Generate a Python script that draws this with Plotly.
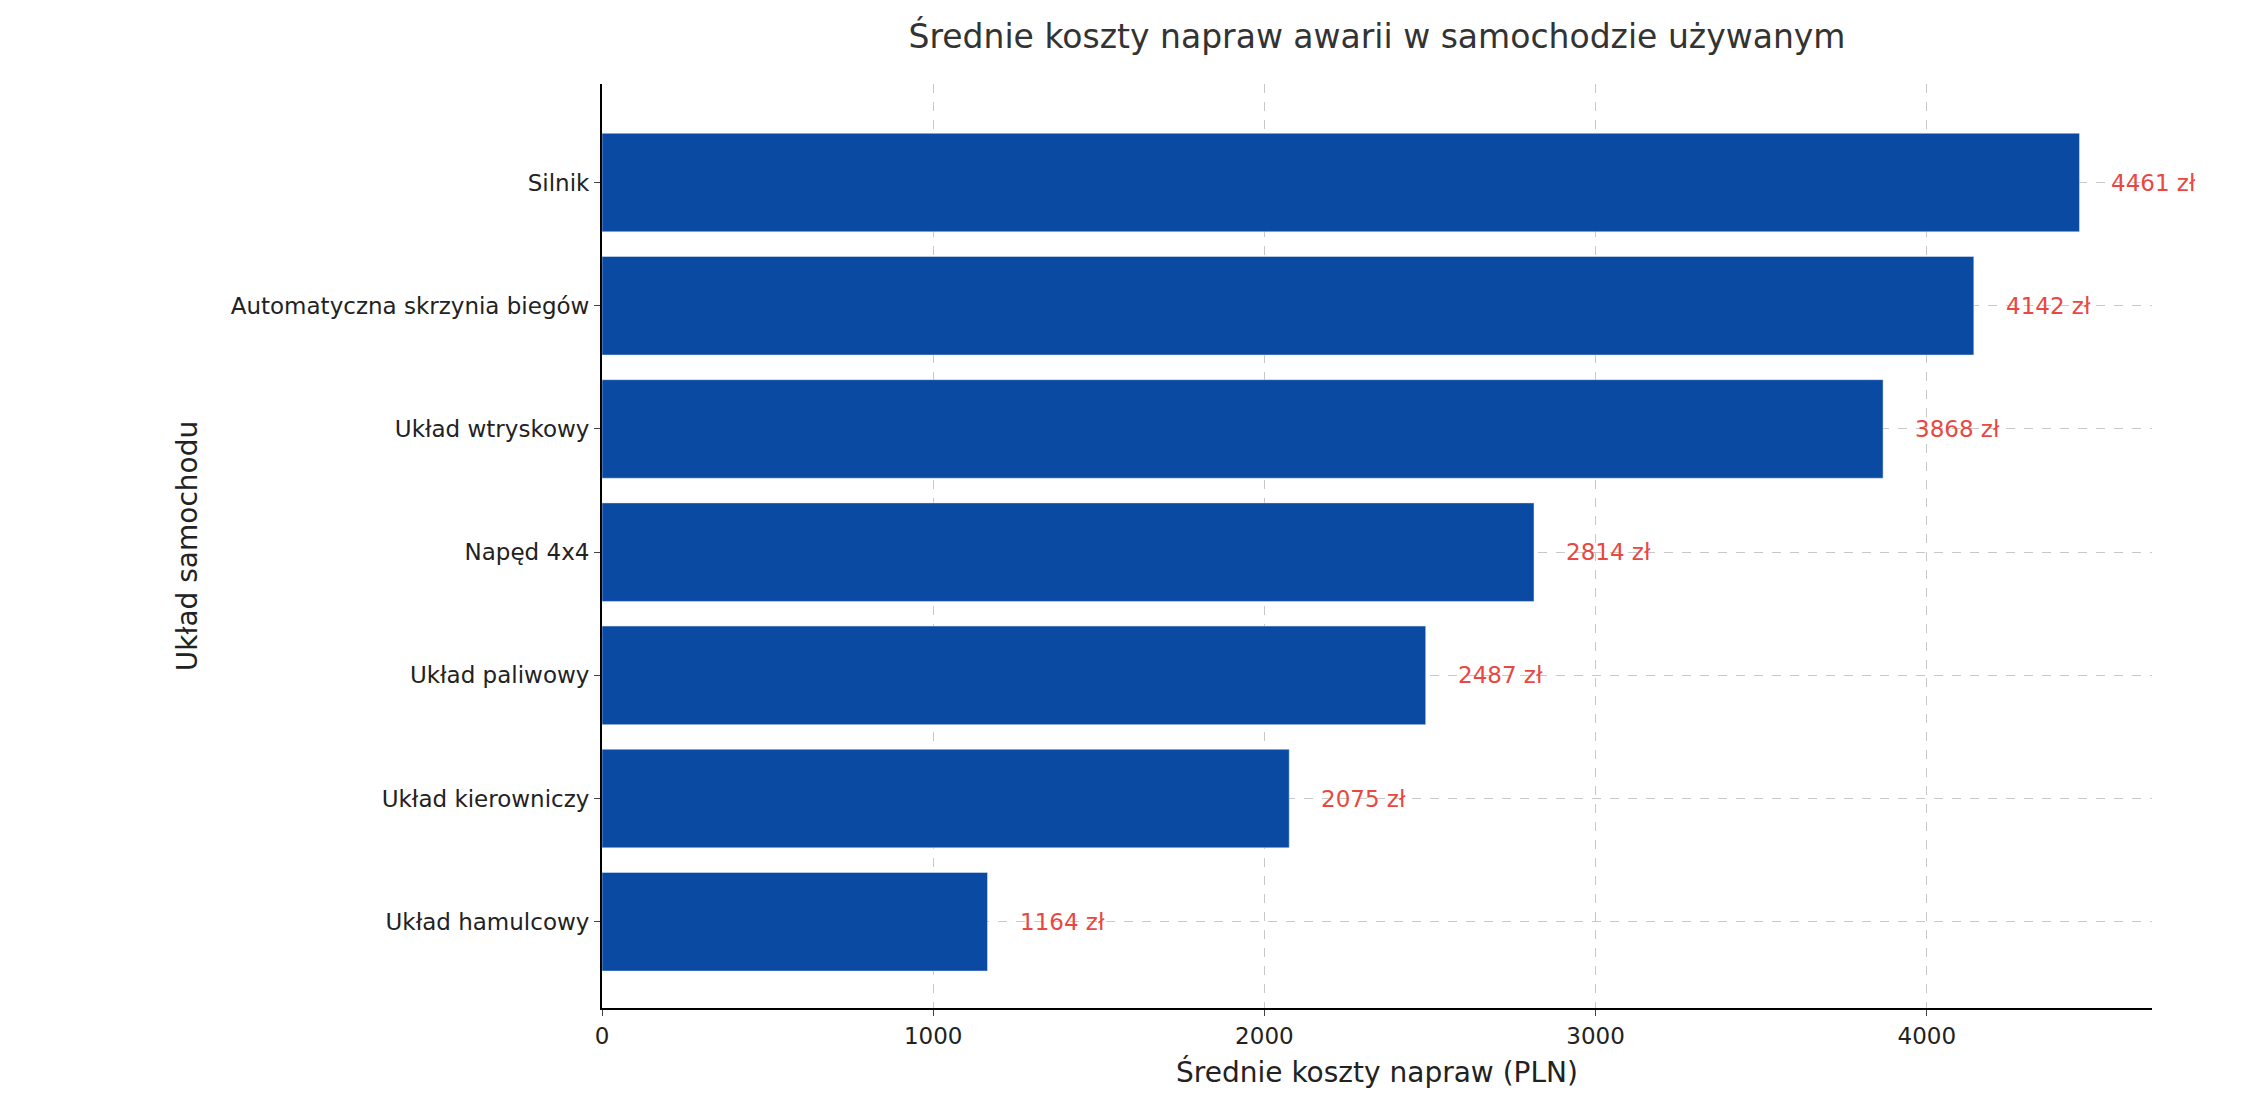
import plotly.graph_objects as go

categories = ["Układ hamulcowy", "Układ kierowniczy", "Układ paliwowy", "Napęd 4x4",
              "Układ wtryskowy", "Automatyczna skrzynia biegów", "Silnik"]
values = [1164, 2075, 2487, 2814, 3868, 4142, 4461]
labels = [f"{v} zł" for v in values]

fig = go.Figure(go.Bar(y=categories, x=values, orientation="h",
                       marker_color="#0A4AA3", width=0.8))
for c, v, t in zip(categories, values, labels):
    fig.add_annotation(x=v, y=c, text=t, showarrow=False, xanchor="left", xshift=30,
                       font=dict(color="#E8483F", size=23, family="DejaVu Sans"))
fig.update_layout(
    width=2259, height=1114, plot_bgcolor="white", paper_bgcolor="white",
    margin=dict(l=594, r=115, t=76, b=114),
    font=dict(family="DejaVu Sans", size=23, color="#222"),
    title=dict(text="Średnie koszty napraw awarii w samochodzie używanym", x=0.5,
               xref="paper", y=0.985, yanchor="top", font=dict(size=33, color="#333")),
    showlegend=False, bargap=0.2)
fig.update_xaxes(range=[0, 4680], dtick=1000, showgrid=True, gridcolor="#c8c8c8",
                 griddash="dash", showline=True, linecolor="black", linewidth=2,
                 ticks="outside", ticklen=6, zeroline=False,
                 title=dict(text="Średnie koszty napraw (PLN)", standoff=15))
fig.update_yaxes(showgrid=True, gridcolor="#c8c8c8", griddash="dash", showline=True,
                 linecolor="black", linewidth=2, ticks="outside", ticklen=6,
                 range=[-0.7, 6.8],
                 title=dict(text="Układ samochodu", standoff=25))
fig.write_html("out.html")
